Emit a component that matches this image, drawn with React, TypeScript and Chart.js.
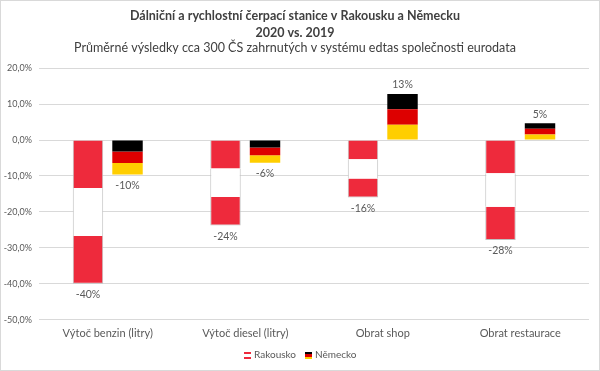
import React, { useEffect, useRef } from "react";
import { Chart, registerables } from "chart.js";
Chart.register(...registerables);

const categories = ["Výtoč benzin (litry)", "Výtoč diesel (litry)", "Obrat shop", "Obrat restaurace"];
const rakousko = [-40, -23.8, -16, -27.8];
const nemecko = [-9.6, -6.3, 12.8, 4.7];
const seriesNames = ["Rakousko", "Německo"];
const titleLines = ["Dálniční a rychlostní čerpací stanice v Rakousku a Německu", "2020 vs. 2019"];
const subtitleText = "Průměrné výsledky cca 300 ČS zahrnutých v systému edtas společnosti eurodata";
const yMin = -50;
const yMax = 20;
const yStep = 10;

const AT_RED = "#EE2A3C";
const WHITE = "#FFFFFF";
const DE_BLACK = "#000000";
const DE_RED = "#DD0000";
const DE_GOLD = "#FFCE00";
const TEXT = "#595959";
const FONT = "Lato";

const flagColors = [
  [AT_RED, WHITE, AT_RED],
  [DE_BLACK, DE_RED, DE_GOLD],
];

const valueLabels = {
  id: "valueLabels",
  afterDatasetsDraw(chart: any) {
    const ctx = chart.ctx;
    const ys = chart.scales.y;
    ctx.save();
    ctx.font = `10.5px ${FONT}`;
    ctx.fillStyle = TEXT;
    ctx.textAlign = "center";
    ctx.textBaseline = "middle";
    const groups: [number[], number][] = [
      [rakousko, 2],
      [nemecko, 5],
    ];
    groups.forEach(([vals, di]) => {
      const meta = chart.getDatasetMeta(di);
      vals.forEach((v, i) => {
        const el = meta.data[i];
        const py = ys.getPixelForValue(v);
        ctx.fillText(`${Math.round(v)}%`, el.x, v < 0 ? py + 11 : py - 9);
      });
    });
    ctx.restore();
  },
};

const flagLegend = {
  id: "flagLegend",
  afterDraw(chart: any) {
    const ctx = chart.ctx;
    ctx.save();
    ctx.font = `10px ${FONT}`;
    ctx.textBaseline = "middle";
    ctx.textAlign = "left";
    const icon = 7;
    const iconGap = 3;
    const itemGap = 9;
    const widths = seriesNames.map((n) => icon + iconGap + ctx.measureText(n).width);
    const total = widths.reduce((a, b) => a + b, 0) + itemGap * (widths.length - 1);
    let x = Math.round((chart.width - total) / 2);
    const cy = chart.height - 15;
    seriesNames.forEach((n, i) => {
      const top = Math.round(cy - icon / 2);
      const hs = [2, 3, 2];
      let yy = top;
      flagColors[i].forEach((c, k) => {
        ctx.fillStyle = c;
        ctx.fillRect(x, yy, icon, hs[k]);
        yy += hs[k];
      });
      ctx.fillStyle = TEXT;
      ctx.fillText(n, x + icon + iconGap, cy);
      x += widths[i] + itemGap;
    });
    ctx.restore();
  },
};

export default function App() {
  const ref = useRef<HTMLCanvasElement>(null);
  useEffect(() => {
    const atBorderSide = { left: 1, right: 1, top: 0, bottom: 0 };
    const atBorderEnd = { left: 1, right: 1, top: 0, bottom: 1 };
    const datasets: any[] = [];
    flagColors[0].forEach((col, k) => {
      datasets.push({
        label: seriesNames[0],
        data: rakousko.map((v) => v / 3),
        stack: "at",
        backgroundColor: col,
        borderColor: "#BFBFBF",
        borderWidth: k === 2 ? atBorderEnd : atBorderSide,
        borderSkipped: false,
      });
    });
    for (let k = 0; k < 3; k++) {
      datasets.push({
        label: seriesNames[1],
        data: nemecko.map((v) => v / 3),
        stack: "de",
        backgroundColor: nemecko.map((v) =>
          k === 1 ? DE_RED : (k === 0) === v < 0 ? DE_BLACK : DE_GOLD
        ),
        borderWidth: 0,
      });
    }
    const chart = new Chart(ref.current!, {
      type: "bar",
      data: { labels: categories, datasets },
      plugins: [valueLabels, flagLegend],
      options: {
        animation: false,
        responsive: false,
        maintainAspectRatio: false,
        categoryPercentage: 0.575,
        barPercentage: 0.77,
        layout: { padding: { left: 0, right: 10, top: 0, bottom: 23 } },
        plugins: {
          title: {
            display: true,
            text: titleLines,
            color: "#404040",
            font: { family: FONT, size: 12.5, weight: "bold", lineHeight: 1.36 },
            padding: { top: 6, bottom: 0 },
          },
          subtitle: {
            display: true,
            text: subtitleText,
            color: "#404040",
            font: { family: FONT, size: 12.5, lineHeight: 1.05 },
            padding: { top: 0, bottom: 14 },
          },
          legend: { display: false },
          tooltip: { enabled: false },
        },
        scales: {
          x: {
            stacked: true,
            grid: { display: false, drawTicks: false },
            border: { display: false },
            ticks: { color: TEXT, font: { family: FONT, size: 11 }, padding: 7 },
          },
          y: {
            stacked: true,
            min: yMin,
            max: yMax,
            border: { display: false },
            grid: { color: "#D9D9D9", lineWidth: 1, drawTicks: false },
            afterFit: (s: any) => {
              s.width = 38;
            },
            ticks: {
              stepSize: yStep,
              color: TEXT,
              font: { family: FONT, size: 9 },
              padding: 7,
              callback: (v: any) => `${Number(v).toFixed(1).replace(".", ",")}%`,
            },
          },
        },
      },
    });
    return () => chart.destroy();
  }, []);
  return (
    <div
      style={{
        position: "fixed",
        left: 0,
        top: 0,
        width: 600,
        height: 371,
        boxSizing: "border-box",
        border: "1px solid #D9D9D9",
        background: "#fff",
      }}
    >
      <canvas ref={ref} width={598} height={369} style={{ display: "block" }} />
    </div>
  );
}
